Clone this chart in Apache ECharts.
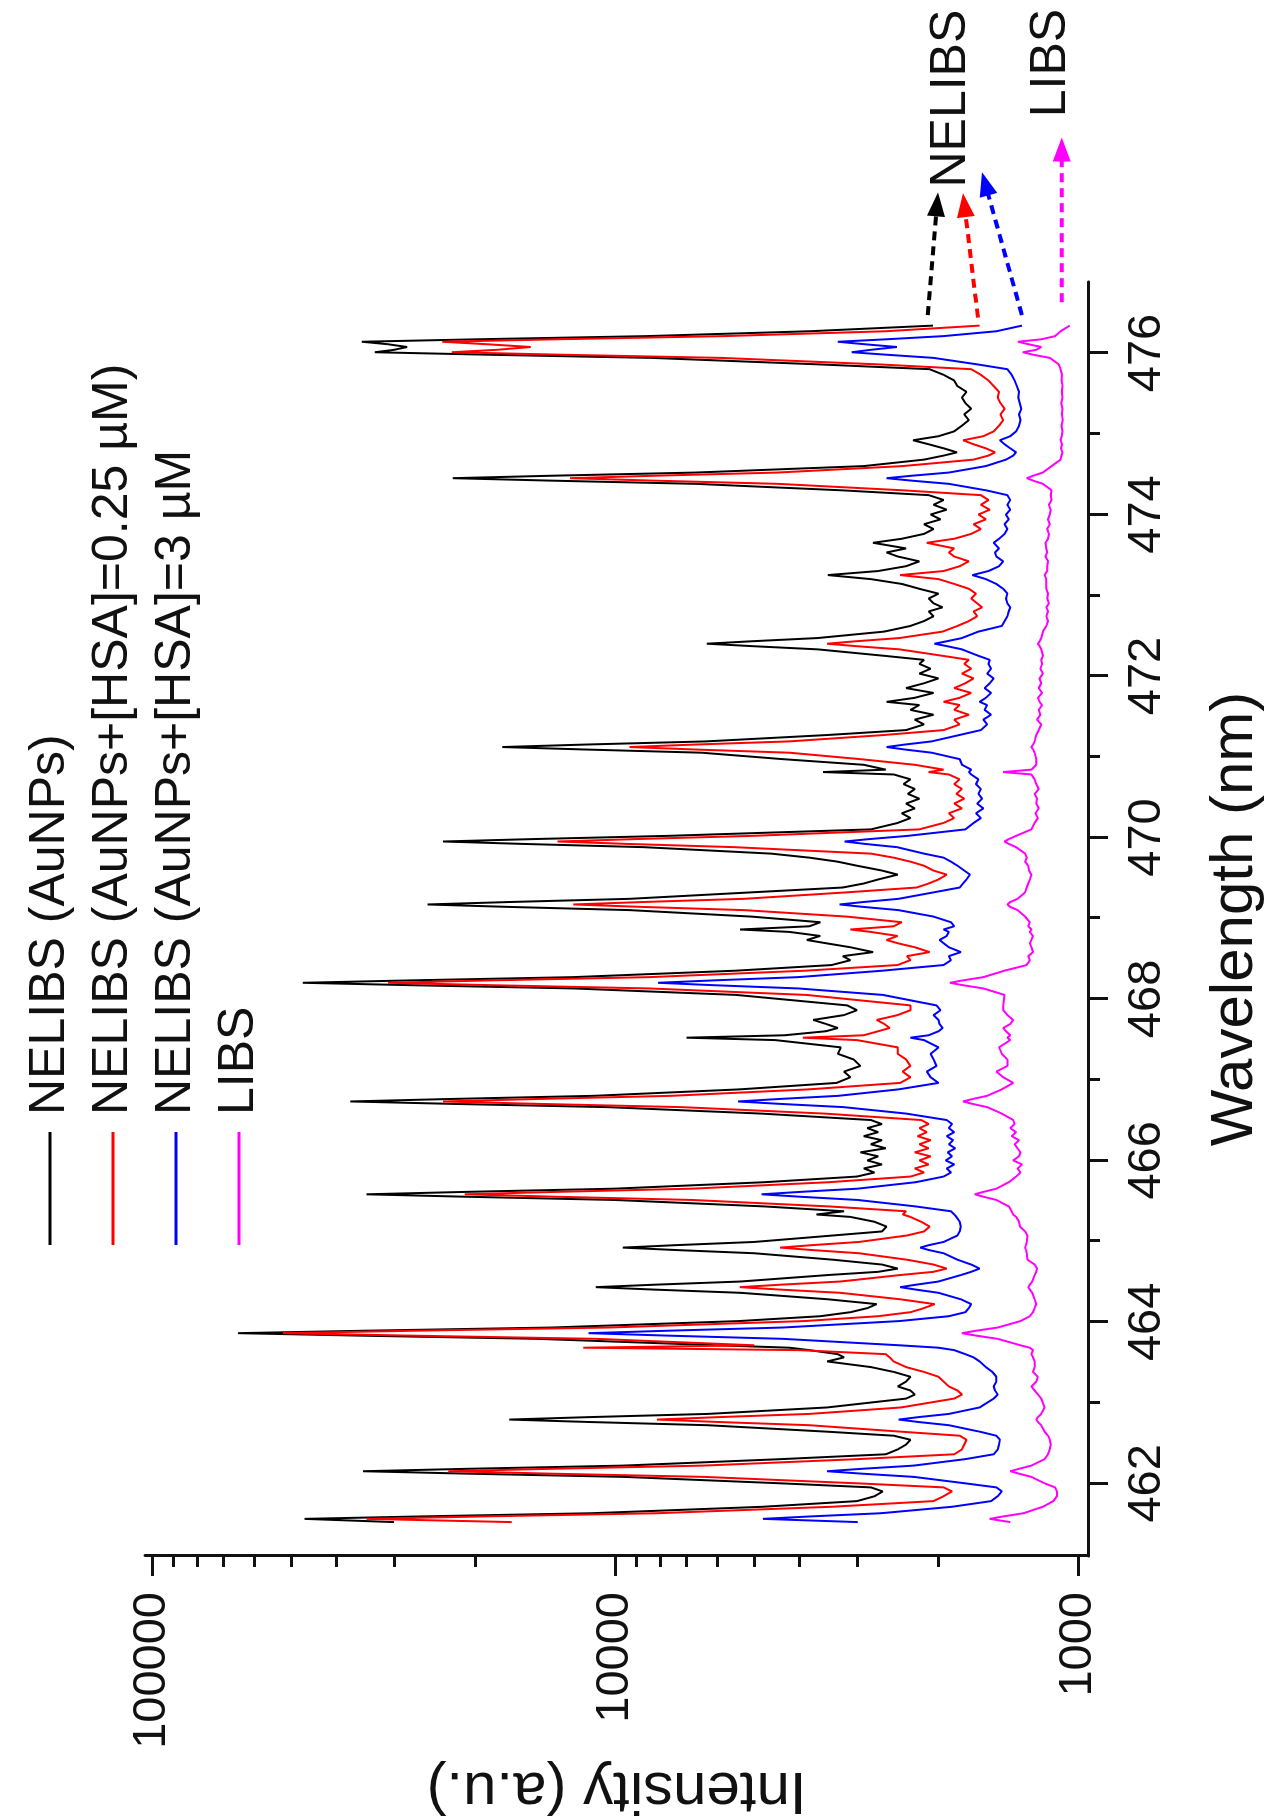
<!DOCTYPE html>
<html>
<head>
<meta charset="utf-8">
<script src="https://cdn.jsdelivr.net/npm/echarts@6/dist/echarts.min.js"></script>
<style>
html,body{margin:0;padding:0;width:1268px;height:1820px;overflow:hidden;background:#fff;}
#chart{position:absolute;left:0;top:0;width:1820px;height:1268px;transform-origin:0 0;transform:translateY(1820px) rotate(-90deg);}
</style>
</head>
<body>
<div id="chart"></div>
<script>
// ---------------- data ----------------
const wavelength = [
461.52,461.56,461.59,461.63,461.71,
461.78,461.84,461.90,461.95,
462.00,462.08,462.12,462.15,462.18,462.22,462.30,
462.36,462.42,462.48,462.54,462.59,
462.64,462.72,462.76,462.79,462.82,462.86,462.94,
463.05,463.10,463.15,463.20,463.26,463.32,463.38,463.44,463.51,463.56,463.60,
463.65,463.68,
463.71,463.79,463.83,463.86,463.89,463.93,464.01,
464.07,464.12,464.17,464.22,
464.28,464.36,464.40,464.43,464.46,464.50,464.58,
464.62,464.66,464.71,
464.77,464.85,464.89,464.92,464.95,464.99,465.07,
465.12,465.18,465.24,465.30,465.33,465.37,
465.43,465.51,465.55,465.58,465.61,465.65,465.73,
465.80,465.85,465.90,465.95,466.00,466.05,466.10,466.15,466.20,466.25,466.30,466.35,466.40,466.45,466.50,
466.58,466.66,466.70,466.73,466.76,466.80,466.88,
466.96,467.03,467.10,467.17,467.25,467.32,467.40,467.49,467.52,467.55,467.60,467.64,467.69,467.74,467.80,467.86,467.92,
468.05,468.13,468.17,468.20,468.23,468.27,468.35,
468.42,468.48,468.53,468.58,468.64,468.69,468.73,468.78,468.83,468.86,468.90,468.95,
469.02,469.10,469.14,469.17,469.20,469.24,469.32,
469.38,469.43,469.48,469.54,469.59,469.65,469.70,469.75,
469.80,469.88,469.92,469.95,469.98,470.02,470.10,
470.18,470.24,470.30,470.36,470.42,470.48,470.54,470.60,470.66,470.72,470.78,470.81,470.84,470.90,
470.97,471.05,471.09,471.12,471.15,471.19,471.27,
471.33,471.40,471.46,471.52,471.58,471.64,471.68,471.73,471.79,471.85,471.91,471.97,472.03,472.09,472.15,472.20,
472.25,472.33,472.37,472.40,472.43,472.47,472.55,
472.62,472.68,472.74,472.80,472.85,472.90,472.96,473.02,473.08,473.14,
473.20,473.25,473.30,
473.36,473.42,473.48,473.53,473.58,473.65,473.70,473.76,473.82,473.88,473.94,474.00,474.06,474.12,474.18,474.24,
474.30,474.38,474.42,474.45,474.48,474.52,474.60,
474.68,474.73,474.77,474.82,474.87,474.92,474.97,475.03,475.10,475.17,475.24,475.31,475.38,475.45,475.52,475.59,475.66,475.73,475.80,
475.86,475.94,475.98,476.01,476.04,476.075,476.11,476.14,476.17,476.21,476.27,476.34
];

const nelibsAuNPs = [
30000,46800,26400,11200,4780,
3000,2750,2640,2800,
4370,9550,20800,35000,20800,9550,4370,
2600,2450,2350,2300,2500,
3480,6300,11400,16900,11400,6300,3480,
2350,2250,2300,2450,2350,2300,2500,2800,3480,3200,3300,
3800,4200,
6000,14700,35900,65200,35000,13700,5400,
3600,3100,2850,2720,
3470,5350,8240,11000,8240,5350,3470,
2700,2450,2650,
3380,5000,7400,9620,7400,5000,3380,
2650,2590,2750,3100,3670,3200,
4750,10000,21000,34400,21000,10000,4750,
3000,2750,2900,2650,2850,2700,2950,2600,2800,2650,2900,2700,2850,2650,2800,
4830,10400,22400,37300,23000,11100,5370,
3320,3100,3200,2950,3050,3300,3250,4500,7000,4300,3500,3300,3500,3730,3200,3000,3150,
5480,12300,27500,47200,27500,12300,5480,
3400,3100,3220,2770,3100,3500,3850,3600,4200,5370,3800,3600,
5080,9290,17000,25400,17000,9290,5080,
3220,2900,2700,2450,2650,3000,3300,3800,
4600,8670,15800,23500,15000,7670,2800,
2450,2300,2400,2250,2350,2200,2330,2250,2380,2300,2500,3550,2600,2900,
4340,6500,11700,17500,11700,6350,3450,
2350,2150,2250,2050,2300,2200,2590,2250,2050,2350,2150,2000,2200,2080,2200,2150,
2620,3650,5070,6330,5070,3650,2620,
2300,2150,2050,2100,1960,2050,2100,2000,2200,2400,
2800,3470,2700,
2350,2200,2450,2590,2350,2770,2400,2150,2050,2150,1980,2080,1920,2050,1950,2100,
3240,6690,13800,22400,13800,6690,2900,
2150,1950,1825,1950,2100,2270,2000,1850,1780,1720,1760,1700,1750,1780,1740,1820,1850,1950,2090,
3640,8320,19000,33000,30000,28100,31000,35200,20000,8500,3800,2055
];

const nelibsHSA025 = [
16700,34400,19300,8090,3400,
2050,1950,1870,1950,
2990,6420,13800,22900,13800,6420,2990,
1850,1780,1760,1740,1800,
2410,3800,5990,8110,5990,3800,2410,
1850,1780,1820,1900,1950,2000,2150,2350,2500,2550,2600,
4000,11700,
5000,11000,27900,52100,27300,10300,3900,
2700,2300,2150,2040,
2420,3260,4400,5370,4400,3260,2420,
2050,1920,2050,
2340,2970,3760,4400,3760,2970,2340,
2150,2090,2180,2300,2390,2350,
3450,6810,13400,21100,13400,6810,3450,
2300,2150,2250,2100,2200,2080,2250,2100,2200,2080,2220,2120,2200,2100,2180,
3530,7190,14600,23500,14900,7550,3810,
2420,2300,2390,2300,2350,2450,2450,3000,3930,2900,2700,2550,2620,2720,2450,2300,2300,
3870,8440,18400,30900,18400,8440,3870,
2450,2300,2340,2090,2250,2450,2590,2450,2800,3100,2500,2400,
3160,5260,8750,12300,8750,5260,3160,
2230,2100,2000,1920,2050,2150,2300,2500,
2800,5530,9380,13300,9020,5030,2200,
1950,1850,1900,1780,1850,1760,1830,1780,1850,1800,1900,2100,1950,2250,
2950,4200,6770,9300,6770,4200,2610,
1950,1800,1850,1720,1850,1800,1950,1800,1700,1850,1750,1680,1780,1700,1760,1720,
1960,2430,3020,3480,3020,2430,1960,
1820,1720,1650,1680,1610,1650,1700,1660,1720,1850,
2000,2420,1950,
1800,1720,1850,1900,1850,2120,1850,1700,1620,1680,1580,1640,1550,1620,1560,1620,
2390,4450,8270,12500,8270,4450,2390,
1680,1560,1510,1580,1680,1770,1600,1520,1480,1450,1470,1440,1470,1490,1480,1520,1560,1620,1700,
2700,5900,13200,22500,18000,15200,19000,23600,13500,5800,2600,1630
];

const nelibsHSA3 = [
2990,4790,3790,2660,1870,
1540,1490,1460,1500,
1750,2260,2930,3480,2930,2260,1750,
1520,1490,1480,1474,1500,
1630,1900,2210,2440,2210,1900,1630,
1520,1490,1510,1520,1500,1500,1530,1580,1630,1680,1750,
1850,2000,
2430,4340,7740,11400,7740,4340,2430,
1900,1750,1720,1700,
1790,2000,2240,2420,2240,2000,1790,
1700,1630,1700,
1820,1950,2100,2190,2100,1950,1820,
1800,1790,1800,1830,1850,1880,
2240,2990,3980,4820,3980,2990,2240,
1950,1880,1920,1850,1930,1870,1910,1840,1900,1860,1920,1850,1900,1870,1920,
2350,3210,4400,5420,4440,3290,2440,
2000,2080,2120,2020,2050,2080,2000,2150,2300,2100,2000,1960,1990,2000,2050,1980,2020,
2640,4020,6110,8070,6110,4020,2640,
1950,1880,1900,1790,1900,1950,1990,1920,1900,1950,1850,1880,
2050,2440,2910,3270,2910,2440,2050,
1800,1770,1740,1710,1760,1820,1880,1950,
2150,2460,2880,3190,2820,2330,1750,
1680,1620,1660,1600,1650,1610,1640,1620,1660,1640,1700,1720,1700,1780,
1800,2070,2370,2590,2370,2070,1800,
1620,1570,1600,1540,1590,1570,1630,1580,1540,1590,1550,1520,1570,1540,1560,1550,
1640,1780,1920,2040,1920,1780,1640,
1460,1440,1420,1410,1400,1420,1430,1420,1450,1500,
1580,1690,1560,
1480,1450,1500,1510,1480,1520,1480,1440,1420,1440,1410,1430,1400,1420,1400,1420,
1580,1900,2290,2590,2290,1900,1580,
1430,1380,1360,1400,1440,1474,1400,1360,1340,1330,1340,1325,1335,1345,1340,1355,1370,1390,1420,
1650,2050,2600,3080,2800,2460,2900,3300,2600,1950,1500,1321
];

const libs = [
1400,1550,1450,1310,1190,
1130,1110,1110,1120,
1180,1260,1340,1400,1340,1260,1180,
1160,1150,1145,1150,1160,
1180,1200,1220,1230,1220,1200,1180,
1200,1220,1240,1260,1230,1220,1250,1240,1240,1250,1260,
1250,1270,
1330,1490,1660,1780,1660,1490,1330,
1270,1250,1240,1230,
1240,1255,1270,1280,1270,1255,1240,
1230,1225,1240,
1285,1290,1295,1300,1295,1290,1285,
1300,1334,1340,1360,1380,1390,
1410,1500,1600,1670,1600,1500,1410,
1360,1330,1350,1320,1380,1340,1330,1350,1370,1340,1390,1360,1400,1370,1380,
1460,1570,1690,1770,1690,1570,1460,
1380,1450,1500,1420,1420,1460,1480,1400,1420,1400,1430,1450,1400,1380,1420,1450,1450,
1440,1600,1770,1890,1770,1600,1440,
1290,1270,1280,1250,1260,1270,1260,1250,1270,1260,1280,1270,
1300,1350,1400,1420,1400,1350,1300,
1290,1280,1270,1260,1275,1280,1300,1290,
1300,1360,1410,1440,1410,1360,1260,
1240,1220,1235,1215,1230,1225,1240,1215,1230,1240,1260,1450,1260,1230,
1230,1240,1250,1260,1250,1240,1230,
1215,1200,1225,1205,1215,1195,1210,1220,1195,1215,1200,1210,1190,1205,1195,1200,
1190,1200,1210,1220,1210,1200,1190,
1170,1160,1170,1160,1170,1155,1165,1160,1170,1170,
1170,1180,1165,
1165,1160,1175,1165,1170,1175,1160,1155,1165,1150,1160,1150,1145,1155,1140,1145,
1140,1190,1250,1289,1250,1190,1140,
1090,1085,1080,1088,1082,1090,1084,1080,1085,1078,1083,1080,1086,1080,1084,1079,1085,1082,1090,
1100,1150,1250,1315,1230,1200,1280,1348,1200,1120,1090,1041
];

const seriesNames = ['NELIBS (AuNPs)', 'NELIBS (AuNPs+[HSA]=0.25 \u00b5M)', 'NELIBS (AuNPs+[HSA]=3 \u00b5M', 'LIBS'];
const seriesColors = ['#000000', '#ff0000', '#0000ff', '#ff00ff'];
const wavelengthMajorTicks = [462, 464, 466, 468, 470, 472, 474, 476];
const wavelengthMinorTicks = [463, 465, 467, 469, 471, 473, 475];
const intensityMajorTicks = [1000, 10000, 100000];
const intensityMinorTicks = [2000,3000,4000,5000,6000,7000,8000,9000,20000,30000,40000,50000,60000,70000,80000,90000];

// annotation arrows (data coordinates): [from, to]
const arrowColors = ['#000000', '#ff0000', '#0000ff', '#ff00ff'];
const arrowFrom = [[476.47, 2109], [476.44, 1644], [476.47, 1321], [476.63, 1083]];
const arrowTo   = [[477.99, 2005], [477.98, 1771], [478.24, 1611], [478.67, 1083]];
const annotationTexts = ['NELIBS', 'LIBS'];
const annotationAt = [[478.05, 1879], [478.92, 1144]];

// ---------------- chart ----------------
const FONT = '"Liberation Sans", Arial, Helvetica, sans-serif';
const INK = '#111111';
const valueSets = [nelibsAuNPs, nelibsHSA025, nelibsHSA3, libs];
valueSets.forEach((arr, i) => {
  if (arr.length !== wavelength.length) throw new Error('length mismatch in series ' + i + ': ' + arr.length + ' vs ' + wavelength.length);
});

const chart = echarts.init(document.getElementById('chart'), null, {renderer: 'canvas', width: 1820, height: 1268});

const series = valueSets.map((vals, i) => ({
  name: seriesNames[i],
  type: 'line',
  xAxisIndex: 0,
  yAxisIndex: 0,
  data: wavelength.map((w, k) => [w, vals[k]]),
  showSymbol: false,
  symbol: 'none',
  smooth: false,
  clip: true,
  lineStyle: {color: seriesColors[i], width: 2},
  itemStyle: {color: seriesColors[i]},
  z: 2 + i,
  animation: false
}));

const axisLineStyle = {color: INK, width: 3};

chart.setOption({
  animation: false,
  backgroundColor: '#ffffff',
  textStyle: {fontFamily: FONT},
  grid: {left: 264, right: 282, top: 145, bottom: 180, containLabel: false, outerBoundsMode: 'none'},
  legend: {
    orient: 'vertical',
    left: 570,
    top: 19,
    itemWidth: 113,
    itemHeight: 3,
    itemGap: 11,
    icon: 'rect',
    data: seriesNames,
    textStyle: {fontSize: 50, lineHeight: 52, color: INK, fontFamily: FONT, padding: [0, 0, 0, 12]},
    selectedMode: false
  },
  xAxis: [
    {
      type: 'value', min: 461.1, max: 476.88, position: 'bottom',
      axisLine: {show: true, onZero: false, lineStyle: axisLineStyle},
      axisTick: {show: true, customValues: wavelengthMajorTicks, length: 20, lineStyle: axisLineStyle},
      axisLabel: {show: true, customValues: wavelengthMajorTicks, fontSize: 47, margin: 36, color: INK, fontFamily: FONT,
                  formatter: v => String(Math.round(v))},
      splitLine: {show: false},
      name: 'Wavelength (nm)', nameLocation: 'middle', nameGap: 117,
      nameTextStyle: {fontSize: 60, color: INK, fontFamily: FONT}
    },
    {
      type: 'value', min: 461.1, max: 476.88, position: 'bottom',
      axisLine: {show: false, onZero: false},
      axisTick: {show: true, customValues: wavelengthMinorTicks, length: 12, lineStyle: axisLineStyle},
      axisLabel: {show: false},
      splitLine: {show: false}
    }
  ],
  yAxis: [
    {
      type: 'log', logBase: 10, min: 951, max: 103500, position: 'left',
      axisLine: {show: true, onZero: false, lineStyle: axisLineStyle},
      axisTick: {show: true, customValues: intensityMajorTicks, length: 20, lineStyle: axisLineStyle},
      axisLabel: {show: true, customValues: intensityMajorTicks, fontSize: 47, margin: 36, color: INK, fontFamily: FONT,
                  formatter: v => String(Math.round(v))},
      splitLine: {show: false},
      name: 'Intensity (a.u.)', nameLocation: 'middle', nameGap: 190, nameRotate: 90,
      nameTextStyle: {fontSize: 60, color: INK, fontFamily: FONT}
    },
    {
      type: 'log', logBase: 10, min: 951, max: 103500, position: 'left',
      axisLine: {show: false, onZero: false},
      axisTick: {show: true, customValues: intensityMinorTicks, length: 11, lineStyle: axisLineStyle},
      axisLabel: {show: false},
      splitLine: {show: false}
    }
  ],
  series: series
});

// annotation arrows and labels placed through the chart's own scales
const px = p => chart.convertToPixel({xAxisIndex: 0, yAxisIndex: 0}, p);
const graphics = [];
arrowFrom.forEach((f, i) => {
  const a = px(f), b = px(arrowTo[i]);
  const dx = b[0] - a[0], dy = b[1] - a[1];
  const len = Math.sqrt(dx * dx + dy * dy);
  const ux = dx / len, uy = dy / len, nx = -uy, ny = ux;
  const head = 24, half = 9;
  const bx = b[0] - ux * head, by = b[1] - uy * head;
  graphics.push({
    type: 'line', silent: true, z: 100,
    shape: {x1: a[0], y1: a[1], x2: bx + ux * 2, y2: by + uy * 2},
    style: {stroke: arrowColors[i], lineWidth: 4, lineDash: [9, 6]}
  });
  graphics.push({
    type: 'polygon', silent: true, z: 100,
    shape: {points: [[b[0], b[1]], [bx + nx * half, by + ny * half], [bx - nx * half, by - ny * half]]},
    style: {fill: arrowColors[i]}
  });
});
annotationTexts.forEach((t, i) => {
  const p = px(annotationAt[i]);
  graphics.push({
    type: 'text', silent: true, z: 100, x: p[0], y: p[1],
    style: {text: t, fontSize: 50, fontFamily: FONT, fill: INK, align: 'left', verticalAlign: 'middle',
            textAlign: 'left', textVerticalAlign: 'middle'}
  });
});
chart.setOption({graphic: graphics});
</script>
</body>
</html>
